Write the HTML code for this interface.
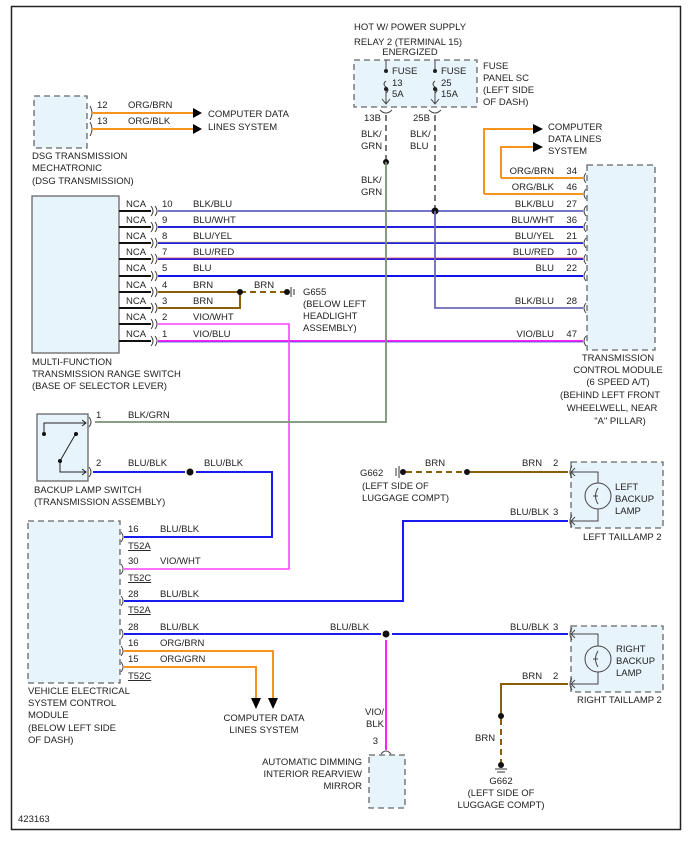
<!DOCTYPE html>
<html><head><meta charset="utf-8"><style>
html,body{margin:0;padding:0;background:#fff}
svg{display:block}
text{font-family:"Liberation Sans",sans-serif;font-size:9.5px;fill:#222}
.bx{fill:#e8f4fc;stroke:#666;stroke-width:1.3}
.dash{stroke-dasharray:6,4}
.c{fill:none;stroke:#444;stroke-width:1}
</style></head><body>
<svg width="694" height="841" viewBox="0 0 694 841">
<rect x="11.5" y="6.5" width="669" height="823" fill="#fff" stroke="#222" stroke-width="1.5"/>

<!-- top text -->
<text x="410" y="30" text-anchor="middle">HOT W/ POWER SUPPLY</text>
<text x="408" y="45" text-anchor="middle">RELAY 2 (TERMINAL 15)</text>
<text x="410" y="55" text-anchor="middle">ENERGIZED</text>
<rect x="354" y="60" width="123" height="47" class="bx dash"/>
<text x="483" y="69">FUSE</text><text x="483" y="81">PANEL SC</text><text x="483" y="93">(LEFT SIDE</text><text x="483" y="105">OF DASH)</text>
<!-- fuses -->
<g stroke="#444" fill="none" stroke-width="1">
<path d="M386 60V70M386 81q-4 3 0 6q4 3 0 6M386 90V104M382 99l4 5 4-5"/>
<path d="M435 60V70M435 81q-4 3 0 6q4 3 0 6M435 90V104M431 99l4 5 4-5"/>
<path d="M380 110q6 6 12 0M429 110q6 6 12 0"/>
</g>
<circle cx="386" cy="71" r="2" fill="#222"/><circle cx="386" cy="89" r="2" fill="#222"/>
<circle cx="435" cy="71" r="2" fill="#222"/><circle cx="435" cy="89" r="2" fill="#222"/>
<text x="392" y="74">FUSE</text><text x="392" y="86">13</text><text x="392" y="97">5A</text>
<text x="441" y="74">FUSE</text><text x="441" y="86">25</text><text x="441" y="97">15A</text>
<text x="364" y="121">13B</text><text x="413" y="121">25B</text>
<text x="361" y="137">BLK/</text><text x="361" y="149">GRN</text>
<text x="410" y="137">BLK/</text><text x="410" y="149">BLU</text>
<text x="361" y="183">BLK/</text><text x="361" y="195">GRN</text>

<!-- DSG -->
<rect x="34" y="96" width="53" height="52" class="bx dash"/>
<text x="32" y="159">DSG TRANSMISSION</text><text x="32" y="171">MECHATRONIC</text><text x="32" y="184">(DSG TRANSMISSION)</text>
<path d="M90 106q4 7 0 14M90 122q4 7 0 14" class="c"/>
<line x1="92" y1="113" x2="195" y2="113" stroke="#f7941d" stroke-width="2"/>
<line x1="92" y1="129" x2="195" y2="129" stroke="#f7941d" stroke-width="2"/>
<path d="M193 108l9 5-9 5zM193 124l9 5-9 5z" fill="#000"/>
<text x="97" y="108">12</text><text x="128" y="108">ORG/BRN</text>
<text x="97" y="124">13</text><text x="128" y="124">ORG/BLK</text>
<text x="208" y="117">COMPUTER DATA</text><text x="208" y="130">LINES SYSTEM</text>

<!-- MF switch -->
<rect x="32" y="196" width="87" height="157" fill="#e8f4fc" stroke="#666" stroke-width="1.3"/>
<text x="32" y="365">MULTI-FUNCTION</text><text x="32" y="377">TRANSMISSION RANGE SWITCH</text><text x="32" y="389">(BASE OF SELECTOR LEVER)</text>
<g stroke="#111" stroke-width="2">
<line x1="119" y1="211" x2="151" y2="211"/><line x1="119" y1="227" x2="151" y2="227"/><line x1="119" y1="243" x2="151" y2="243"/>
<line x1="119" y1="259" x2="151" y2="259"/><line x1="119" y1="276" x2="151" y2="276"/><line x1="119" y1="292" x2="151" y2="292"/>
<line x1="119" y1="308" x2="151" y2="308"/><line x1="119" y1="324" x2="151" y2="324"/><line x1="119" y1="341" x2="151" y2="341"/>
</g>
<g class="c">
<path d="M151 206q4 5 0 10M155 206q4 5 0 10"/><path d="M151 222q4 5 0 10M155 222q4 5 0 10"/><path d="M151 238q4 5 0 10M155 238q4 5 0 10"/>
<path d="M151 254q4 5 0 10M155 254q4 5 0 10"/><path d="M151 271q4 5 0 10M155 271q4 5 0 10"/><path d="M151 287q4 5 0 10M155 287q4 5 0 10"/>
<path d="M151 303q4 5 0 10M155 303q4 5 0 10"/><path d="M151 319q4 5 0 10M155 319q4 5 0 10"/><path d="M151 336q4 5 0 10M155 336q4 5 0 10"/>
</g>
<g>
<text x="126" y="207">NCA</text><text x="162" y="207">10</text><text x="193" y="207">BLK/BLU</text>
<text x="126" y="223">NCA</text><text x="162" y="223">9</text><text x="193" y="223">BLU/WHT</text>
<text x="126" y="239">NCA</text><text x="162" y="239">8</text><text x="193" y="239">BLU/YEL</text>
<text x="126" y="255">NCA</text><text x="162" y="255">7</text><text x="193" y="255">BLU/RED</text>
<text x="126" y="271">NCA</text><text x="162" y="271">5</text><text x="193" y="271">BLU</text>
<text x="126" y="288">NCA</text><text x="162" y="288">4</text><text x="193" y="288">BRN</text><text x="254" y="288">BRN</text>
<text x="126" y="304">NCA</text><text x="162" y="304">3</text><text x="193" y="304">BRN</text>
<text x="126" y="320">NCA</text><text x="162" y="320">2</text><text x="193" y="320">VIO/WHT</text>
<text x="126" y="337">NCA</text><text x="162" y="337">1</text><text x="193" y="337">VIO/BLU</text>
</g>
<!-- through wires -->
<line x1="158" y1="211" x2="583" y2="211" stroke="#7474c8" stroke-width="2"/>
<line x1="158" y1="227" x2="583" y2="227" stroke="#2020e0" stroke-width="2"/>
<line x1="158" y1="243" x2="583" y2="243" stroke="#2020e0" stroke-width="2"/>
<line x1="158" y1="242" x2="583" y2="242" stroke="#d8c860" stroke-width="0.6"/>
<line x1="158" y1="259" x2="583" y2="259" stroke="#2020e0" stroke-width="2"/>
<line x1="158" y1="258" x2="583" y2="258" stroke="#e03070" stroke-width="0.7"/>
<line x1="158" y1="276" x2="583" y2="276" stroke="#1010f0" stroke-width="2"/>
<line x1="158" y1="341" x2="583" y2="341" stroke="#ff20ff" stroke-width="2"/>
<line x1="158" y1="342" x2="583" y2="342" stroke="#4040d0" stroke-width="0.7"/>
<!-- BRN -->
<path d="M158 292H240M158 308H240V292" fill="none" stroke="#8b5e0a" stroke-width="2"/>
<line x1="240" y1="292" x2="286" y2="292" stroke="#8b5e0a" stroke-width="2" stroke-dasharray="6,4"/>
<circle cx="240" cy="292" r="3" fill="#111"/><circle cx="287" cy="292" r="3" fill="#111"/>
<path d="M291 287v10M294 289v6" stroke="#333"/>
<text x="303" y="295">G655</text><text x="303" y="307">(BELOW LEFT</text><text x="303" y="319">HEADLIGHT</text><text x="303" y="331">ASSEMBLY)</text>
<!-- VIO/WHT -->
<path d="M158 324H289V569H124" fill="none" stroke="#ff40ff" stroke-width="1.6"/>

<!-- fuse wires -->
<line x1="386" y1="115" x2="386" y2="162" stroke="#555" stroke-width="1.6" stroke-dasharray="6,4"/>
<circle cx="386" cy="162" r="3" fill="#111"/>
<path d="M386 162V422H95" fill="none" stroke="#7a9070" stroke-width="1.8"/>
<line x1="435" y1="115" x2="435" y2="211" stroke="#555" stroke-width="1.6" stroke-dasharray="6,4"/>
<circle cx="435" cy="211" r="3.5" fill="#111"/>
<path d="M435 211V308H583" fill="none" stroke="#6a6ab8" stroke-width="1.8"/>

<!-- TCM -->
<rect x="587" y="165" width="68" height="185" class="bx dash"/>
<path d="M501 178V147H535M484 194V129H535" fill="none" stroke="#f7941d" stroke-width="2"/>
<path d="M501 178H583M484 194H583" fill="none" stroke="#f7941d" stroke-width="2"/>
<path d="M533 142l10 5-10 5zM533 124l10 5-10 5z" fill="#000"/>
<text x="548" y="130">COMPUTER</text><text x="548" y="142">DATA LINES</text><text x="548" y="154">SYSTEM</text>
<g class="c">
<path d="M586 173q-4 5 0 10"/><path d="M586 189q-4 5 0 10"/><path d="M586 206q-4 5 0 10"/><path d="M586 222q-4 5 0 10"/>
<path d="M586 238q-4 5 0 10"/><path d="M586 254q-4 5 0 10"/><path d="M586 271q-4 5 0 10"/><path d="M586 303q-4 5 0 10"/><path d="M586 336q-4 5 0 10"/>
</g>
<g text-anchor="end">
<text x="554" y="174">ORG/BRN</text><text x="577" y="174">34</text>
<text x="554" y="190">ORG/BLK</text><text x="577" y="190">46</text>
<text x="554" y="207">BLK/BLU</text><text x="577" y="207">27</text>
<text x="554" y="223">BLU/WHT</text><text x="577" y="223">36</text>
<text x="554" y="239">BLU/YEL</text><text x="577" y="239">21</text>
<text x="554" y="255">BLU/RED</text><text x="577" y="255">10</text>
<text x="554" y="271">BLU</text><text x="577" y="271">22</text>
<text x="554" y="304">BLK/BLU</text><text x="577" y="304">28</text>
<text x="554" y="337">VIO/BLU</text><text x="577" y="337">47</text>
</g>
<g text-anchor="middle">
<text x="618" y="361">TRANSMISSION</text><text x="618" y="373">CONTROL MODULE</text><text x="618" y="385">(6 SPEED A/T)</text>
<text x="610" y="398">(BEHIND LEFT FRONT</text><text x="612" y="411">WHEELWELL, NEAR</text><text x="620" y="424">"A" PILLAR)</text>
</g>

<!-- backup lamp switch -->
<rect x="37" y="414" width="51" height="67" class="bx"/>
<g stroke="#222" fill="none">
<path d="M44 434V423H86M82 420l4 3-4 3"/>
<path d="M60 461V472H86M82 469l4 3-4 3"/>
<path d="M60 461L75 435"/>
</g>
<circle cx="44" cy="434" r="2" fill="#111"/><circle cx="76" cy="434" r="2" fill="#111"/><circle cx="60" cy="461" r="2" fill="#111"/>
<path d="M89 417q4 5 0 10M89 467q4 5 0 10" class="c"/>
<text x="96" y="418">1</text><text x="128" y="418">BLK/GRN</text>
<text x="96" y="466">2</text><text x="128" y="466">BLU/BLK</text><text x="204" y="466">BLU/BLK</text>
<text x="34" y="493">BACKUP LAMP SWITCH</text><text x="34" y="505">(TRANSMISSION ASSEMBLY)</text>
<path d="M93 472H185M196 472H272V537H124" fill="none" stroke="#1a1af0" stroke-width="2"/>
<circle cx="190" cy="472" r="3.5" fill="#111"/>

<!-- VESCM -->
<rect x="28" y="521" width="92" height="162" class="bx dash"/>
<g class="c">
<path d="M121 532q4 5 0 10M121 564q4 5 0 10M121 596q4 5 0 10M121 629q4 5 0 10M121 646q4 5 0 10M121 662q4 5 0 10"/>
</g>
<text x="128" y="532">16</text><text x="160" y="532">BLU/BLK</text><text x="128" y="549" text-decoration="underline">T52A</text>
<text x="128" y="564">30</text><text x="160" y="564">VIO/WHT</text><text x="128" y="581" text-decoration="underline">T52C</text>
<text x="128" y="597">28</text><text x="160" y="597">BLU/BLK</text><text x="128" y="613" text-decoration="underline">T52A</text>
<text x="128" y="630">28</text><text x="160" y="630">BLU/BLK</text><text x="330" y="630">BLU/BLK</text>
<text x="128" y="646">16</text><text x="160" y="646">ORG/BRN</text>
<text x="128" y="662">15</text><text x="160" y="662">ORG/GRN</text><text x="128" y="679" text-decoration="underline">T52C</text>
<text x="28" y="694">VEHICLE ELECTRICAL</text><text x="28" y="706">SYSTEM CONTROL</text><text x="28" y="718">MODULE</text>
<text x="28" y="731">(BELOW LEFT SIDE</text><text x="28" y="743">OF DASH)</text>
<path d="M124 601H403V521H568" fill="none" stroke="#1a1af0" stroke-width="2"/>
<path d="M124 634H381M392 634H568" fill="none" stroke="#1a1af0" stroke-width="2"/>
<circle cx="386" cy="634" r="3.5" fill="#111"/>
<path d="M386 640V750" stroke="#ff20ff" stroke-width="2"/>
<path d="M124 651H273V700M124 667H256V700" fill="none" stroke="#f7941d" stroke-width="2"/>
<path d="M268 698l5 11 5-11zM251 698l5 11 5-11z" fill="#000"/>
<text x="264" y="721" text-anchor="middle">COMPUTER DATA</text><text x="264" y="733" text-anchor="middle">LINES SYSTEM</text>

<!-- mirror -->
<text x="384" y="715" text-anchor="end">VIO/</text><text x="384" y="727" text-anchor="end">BLK</text>
<text x="378" y="744" text-anchor="end">3</text>
<path d="M381 754q5 -6 10 0" class="c"/>
<rect x="369" y="755" width="36" height="53" class="bx dash"/>
<g text-anchor="end"><text x="362" y="765">AUTOMATIC DIMMING</text><text x="362" y="777">INTERIOR REARVIEW</text><text x="362" y="789">MIRROR</text></g>

<!-- G662 top -->
<text x="360" y="476">G662</text><text x="362" y="489">(LEFT SIDE OF</text><text x="362" y="501">LUGGAGE COMPT)</text>
<path d="M396 468v8M399 466v12" stroke="#333"/>
<circle cx="403" cy="472" r="3" fill="#111"/>
<line x1="406" y1="472" x2="467" y2="472" stroke="#8b5e0a" stroke-width="2" stroke-dasharray="6,4"/>
<circle cx="467" cy="472" r="3" fill="#111"/>
<line x1="470" y1="472" x2="568" y2="472" stroke="#8b5e0a" stroke-width="2"/>
<text x="425" y="466">BRN</text>
<text x="522" y="466">BRN</text><text x="553" y="466">2</text>
<text x="510" y="515">BLU/BLK</text><text x="553" y="515">3</text>

<!-- left taillamp -->
<rect x="571" y="462" width="92" height="66" class="bx dash"/>
<g class="c">
<path d="M572 466q-4 6 0 12M572 515q-4 6 0 12"/>
<path d="M570 472H598V521H570M575 468l-4 4 4 4M575 517l-4 4 4 4"/>
</g>
<circle cx="598" cy="496" r="13" fill="#e8f4fc" stroke="#444"/>
<path d="M598 488q-5 8 0 16M593 496h5" class="c"/>
<text x="615" y="490">LEFT</text><text x="615" y="502">BACKUP</text><text x="615" y="514">LAMP</text>
<text x="583" y="540">LEFT TAILLAMP 2</text>

<!-- right taillamp -->
<rect x="571" y="626" width="92" height="66" class="bx dash"/>
<g class="c">
<path d="M572 628q-4 6 0 12M572 678q-4 6 0 12"/>
<path d="M570 634H598V684H570M575 630l-4 4 4 4M575 680l-4 4 4 4"/>
</g>
<circle cx="598" cy="659" r="13" fill="#e8f4fc" stroke="#444"/>
<path d="M598 651q-5 8 0 16M593 659h5" class="c"/>
<text x="616" y="652">RIGHT</text><text x="616" y="664">BACKUP</text><text x="616" y="676">LAMP</text>
<text x="577" y="703">RIGHT TAILLAMP 2</text>
<text x="510" y="630">BLU/BLK</text><text x="553" y="630">3</text>
<text x="522" y="679">BRN</text><text x="553" y="679">2</text>
<path d="M568 684H501V716" fill="none" stroke="#8b5e0a" stroke-width="2"/>
<circle cx="501" cy="716" r="3" fill="#111"/>
<line x1="501" y1="719" x2="501" y2="764" stroke="#8b5e0a" stroke-width="2" stroke-dasharray="6,4"/>
<circle cx="501" cy="765" r="3" fill="#111"/>
<path d="M495 769h12M497 772h8" stroke="#333"/>
<text x="475" y="741">BRN</text>
<text x="501" y="784" text-anchor="middle">G662</text><text x="501" y="796" text-anchor="middle">(LEFT SIDE OF</text><text x="501" y="808" text-anchor="middle">LUGGAGE COMPT)</text>

<text x="18" y="822">423163</text>
</svg>
</body></html>
